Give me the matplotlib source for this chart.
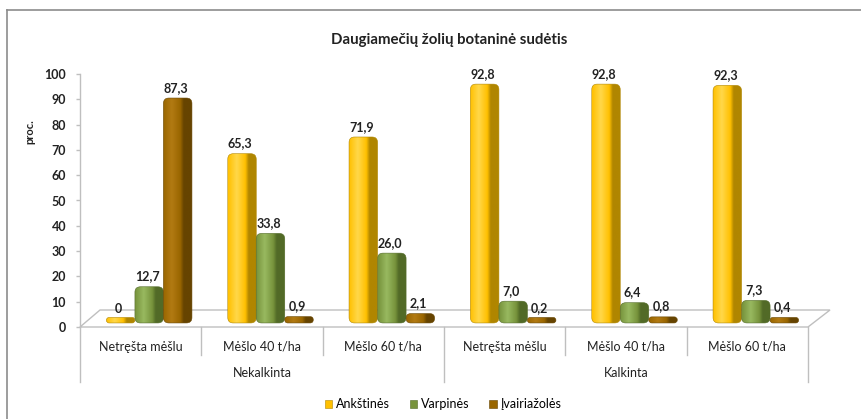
import numpy as np
import matplotlib
matplotlib.use('Agg')
import matplotlib.pyplot as plt
from matplotlib.patches import FancyBboxPatch, Polygon, Patch
from matplotlib.colors import to_rgb
from matplotlib.lines import Line2D

plt.rcParams['font.family'] = ['Lato', 'DejaVu Sans']

# data
treatments = ['Netręšta mėšlu', 'Mėšlo 40 t/ha', 'Mėšlo 60 t/ha'] * 2
groups = ['Nekalkinta', 'Kalkinta']
series = ['Ankštinės', 'Varpinės', 'Įvairiažolės']
ankstines = [0, 65.3, 71.9, 92.8, 92.8, 92.3]
varpines = [12.7, 33.8, 26.0, 7.0, 6.4, 7.3]
ivairiazoles = [87.3, 0.9, 2.1, 0.2, 0.8, 0.4]

# light, main, dark shade per series
shades = [('#FFD84A', '#FFC000', '#B08600'),
          ('#98B960', '#77933C', '#526A27'),
          ('#B27A12', '#996600', '#664400')]
grey = '#BFBFBF'

W, H = 861, 419
fig = plt.figure(figsize=(W / 100, H / 100), dpi=100)
ax = fig.add_axes([80 / W, 1 - 327 / H, 728 / W, 253 / H])
ax.set_xlim(-0.5, 5.5)
ax.set_ylim(0, 100)

px_x = 1 / 121.33   # x units per pixel
px_y = 100 / 253    # y units per pixel
aspect = px_y / px_x

# floor of the 3d plot
floor = Polygon([(-0.5, 0), (5.5, 0), (5.5 + 22 * px_x, 17 * px_y),
                 (-0.5 + 20 * px_x, 17 * px_y)], closed=True,
                facecolor='white', edgecolor=grey, lw=1.0, zorder=1,
                clip_on=False)
ax.add_patch(floor)


def gradient(light, main, dark):
    t = np.linspace(0, 1, 64)
    stops = [0, 0.3, 0.6, 0.72, 1]
    cols = np.array([to_rgb(main), to_rgb(light), to_rgb(main),
                     to_rgb(dark), to_rgb(dark)])
    img = np.stack([np.interp(t, stops, cols[:, k]) for k in range(3)], axis=-1)
    return img[np.newaxis, :, :]


bw = 0.235
offsets = [-0.235, 0, 0.235]
base = 1.6
for s, vals in enumerate([ankstines, varpines, ivairiazoles]):
    light, main, dark = shades[s]
    img = gradient(light, main, dark)
    for i, v in enumerate(vals):
        xc = i + 0.07 + offsets[s]
        x0 = xc - bw / 2
        top = max(v + 3.2, base + 5.5 * px_y)
        h = top - base
        r = min(5.5 * px_x, h / aspect / 2)
        box = FancyBboxPatch((x0, base), bw, h,
                             boxstyle='round,pad=0,rounding_size=%f' % r,
                             mutation_aspect=aspect, facecolor='none',
                             edgecolor=dark, lw=0.4, zorder=3 + s)
        ax.add_patch(box)
        im = ax.imshow(img, extent=[x0, x0 + bw, base, top], aspect='auto',
                       zorder=2 + s, interpolation='bilinear')
        im.set_clip_path(box)
        lab = '0' if v == 0 else ('%.1f' % v).replace('.', ',')
        ax.text(xc - 2 * px_x, v + 7.3, lab, ha='center', va='center',
                fontsize=9, fontweight='bold', color='#222222', zorder=10)

ax.set_xlim(-0.5, 5.5)
ax.set_ylim(0, 100)

# axes styling
for sp in ['top', 'right', 'bottom']:
    ax.spines[sp].set_visible(False)
ax.spines['left'].set_color(grey)
ax.spines['left'].set_linewidth(1.0)
ax.set_xticks([])
ax.set_yticks(range(0, 101, 10))
ax.tick_params(axis='y', length=3, color=grey, width=1.0, pad=7,
               labelsize=9, labelcolor='#222222')
for t in ax.get_yticklabels():
    t.set_fontweight('bold')

# category axis below the floor
for k in range(7):
    low = -21.7 if k in (0, 3, 6) else -11.1
    ax.plot([k - 0.5, k - 0.5], [0, low], color=grey, lw=1.0, clip_on=False)
for i, name in enumerate(treatments):
    ax.text(i, -7.9, name, ha='center', va='center', fontsize=9,
            color='#222222')
for g, name in enumerate(groups):
    ax.text(1 + 3 * g, -18.2, name, ha='center', va='center', fontsize=9,
            color='#222222')

fig.text(449 / W, 1 - 40 / H, 'Daugiamečių žolių botaninė sudėtis',
         ha='center', va='center', fontsize=10.8, fontweight='bold',
         color='#222222')
fig.text(30 / W, 1 - 132 / H, 'proc.', rotation=90, ha='center', va='center',
         fontsize=8, fontweight='bold', color='#222222')

handles = [Patch(facecolor=shades[s][1], edgecolor=shades[s][2], lw=0.4)
           for s in range(3)]
fig.legend(handles, series, loc='center', bbox_to_anchor=(443 / W, 1 - 404 / H),
           ncol=3, frameon=False, fontsize=9, handlelength=0.6,
           handleheight=0.6, handletextpad=0.3, columnspacing=1.6)

# chart area border (only top and left visible in the crop)
fig.add_artist(Line2D([7 / W, 7 / W], [0, 1 - 10 / H], color='#8C8C8C',
                      lw=1.2, transform=fig.transFigure))
fig.add_artist(Line2D([7 / W, 1], [1 - 10 / H, 1 - 10 / H], color='#8C8C8C',
                      lw=1.2, transform=fig.transFigure))

fig.savefig('out.png', dpi=100)
